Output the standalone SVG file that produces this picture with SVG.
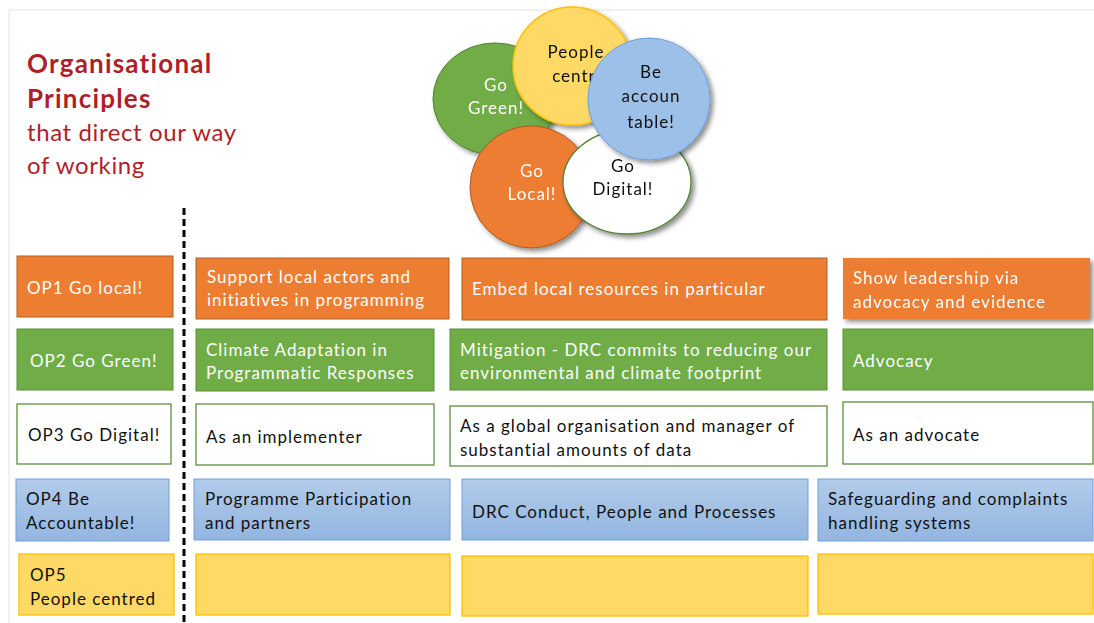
<svg xmlns="http://www.w3.org/2000/svg" width="1094" height="623" viewBox="0 0 1094 623">
<defs>
<filter id="sh" x="-20%" y="-20%" width="150%" height="150%">
<feGaussianBlur in="SourceAlpha" stdDeviation="2.5"/>
<feOffset dx="3" dy="3" result="b"/>
<feComponentTransfer><feFuncA type="linear" slope="0.45"/></feComponentTransfer>
<feMerge><feMergeNode/><feMergeNode in="SourceGraphic"/></feMerge>
</filter>
<linearGradient id="blue" x1="0" y1="0" x2="0" y2="1">
<stop offset="0" stop-color="#B3CCEA"/>
<stop offset="1" stop-color="#92B5E0"/>
</linearGradient>
</defs>
<style>
text{font-family:Lato,"Open Sans","Liberation Sans",sans-serif;font-size:17px;letter-spacing:1px}
.w{fill:#ffffff}
.k{fill:#111111}
.or{fill:#ED7D31;stroke:#B25E22;stroke-width:1}
.gr{fill:#70AD47;stroke:#5B8F38;stroke-width:1}
.wh{fill:#ffffff;stroke:#5E8E3C;stroke-width:1.3}
.bl{fill:url(#blue);stroke:#6FA0DC;stroke-width:1}
.ye{fill:#FFD966;stroke:#FFC000;stroke-width:1.3}
.ttl{fill:#B01F28}
.c{text-anchor:middle}
</style>
<rect x="0" y="0" width="1094" height="623" fill="#ffffff"/>
<path d="M9 623 V10 H1094" fill="none" stroke="#EDEDED" stroke-width="1.5"/>

<g id="title">
<text class="ttl" x="27" y="73" style="font-size:26px;font-weight:bold;letter-spacing:1.2px">Organisational</text>
<text class="ttl" x="27" y="108" style="font-size:26px;font-weight:bold;letter-spacing:1.2px">Principles</text>
<text class="ttl" x="27" y="141" style="font-size:24px;letter-spacing:0.6px">that direct our way</text>
<text class="ttl" x="27" y="174" style="font-size:24px;letter-spacing:0.6px">of working</text>
</g>

<g id="connectors">
<line x1="184" y1="208" x2="184" y2="623" stroke="#000" stroke-width="3" stroke-dasharray="7,4"/>
</g>

<g id="circle-green" filter="url(#sh)">
<ellipse cx="495" cy="99" rx="62" ry="56" fill="#70AD47" stroke="#507E32" stroke-width="1"/>
<text class="w c" x="496" y="91">Go</text>
<text class="w c" x="496" y="114">Green!</text>
</g>
<g id="circle-people" filter="url(#sh)">
<circle cx="572" cy="66" r="59" fill="#FFD966" stroke="#FFC000" stroke-width="1.5"/>
<text class="k c" x="576" y="58">People</text>
<text class="k c" x="584" y="82">centred</text>
</g>
<g id="circle-local" filter="url(#sh)">
<circle cx="531" cy="187" r="61" fill="#ED7D31" stroke="#AE5A21" stroke-width="1"/>
<text class="w c" x="532" y="177">Go</text>
<text class="w c" x="532" y="200">Local!</text>
</g>
<g id="circle-digital" filter="url(#sh)">
<ellipse cx="627" cy="182" rx="64" ry="52" fill="#ffffff" stroke="#548235" stroke-width="1.3"/>
<text class="k c" x="623" y="172">Go</text>
<text class="k c" x="623" y="195">Digital!</text>
</g>
<g id="circle-accountable" filter="url(#sh)">
<circle cx="649" cy="99" r="61" fill="#9DC0E8" stroke="#6D9EDB" stroke-width="1"/>
<text class="k c" x="651" y="78">Be</text>
<text class="k c" x="651" y="102">accoun</text>
<text class="k c" x="651" y="128">table!</text>
</g>

<g id="op1">
<rect class="or" x="17" y="256" width="156" height="61"/>
<text class="w" x="27" y="294">OP1 Go local!</text>
</g>
<g id="op1-a">
<rect class="or" x="196" y="258" width="253" height="61"/>
<text class="w" x="207" y="283">Support local actors and</text>
<text class="w" x="207" y="306">initiatives in programming</text>
</g>
<g id="op1-b">
<rect class="or" x="462" y="258" width="365" height="62"/>
<text class="w" x="472" y="295">Embed local resources in particular</text>
</g>
<g id="op1-c" filter="url(#sh)">
<rect x="843" y="258" width="247" height="61" fill="#ED7D31"/>
<text class="w" x="853" y="284">Show leadership via</text>
<text class="w" x="853" y="308">advocacy and evidence</text>
</g>

<g id="op2">
<rect class="gr" x="17" y="329" width="156" height="61"/>
<text class="w" x="30" y="367">OP2 Go Green!</text>
</g>
<g id="op2-a">
<rect class="gr" x="196" y="329" width="238" height="62"/>
<text class="w" x="206" y="356">Climate Adaptation in</text>
<text class="w" x="206" y="379">Programmatic Responses</text>
</g>
<g id="op2-b">
<rect class="gr" x="450" y="329" width="377" height="61"/>
<text class="w" x="460" y="356">Mitigation - DRC commits to reducing our</text>
<text class="w" x="460" y="379">environmental and climate footprint</text>
</g>
<g id="op2-c">
<rect class="gr" x="843" y="329" width="250" height="61"/>
<text class="w" x="853" y="367">Advocacy</text>
</g>

<g id="op3">
<rect class="wh" x="17" y="404" width="154" height="60"/>
<text class="k" x="28" y="441">OP3 Go Digital!</text>
</g>
<g id="op3-a">
<rect class="wh" x="196" y="404" width="238" height="61"/>
<text class="k" x="206" y="443">As an implementer</text>
</g>
<g id="op3-b">
<rect class="wh" x="450" y="406" width="377" height="60"/>
<text class="k" x="460" y="432">As a global organisation and manager of</text>
<text class="k" x="460" y="456">substantial amounts of data</text>
</g>
<g id="op3-c">
<rect class="wh" x="843" y="402" width="250" height="62"/>
<text class="k" x="853" y="441">As an advocate</text>
</g>

<g id="op4">
<rect class="bl" x="16" y="479" width="153" height="62"/>
<text class="k" x="26" y="505">OP4 Be</text>
<text class="k" x="26" y="529">Accountable!</text>
</g>
<g id="op4-a">
<rect class="bl" x="194" y="479" width="256" height="61"/>
<text class="k" x="205" y="505">Programme Participation</text>
<text class="k" x="205" y="529">and partners</text>
</g>
<g id="op4-b">
<rect class="bl" x="462" y="479" width="346" height="61"/>
<text class="k" x="472" y="518">DRC Conduct, People and Processes</text>
</g>
<g id="op4-c">
<rect class="bl" x="818" y="479" width="275" height="62"/>
<text class="k" x="828" y="505">Safeguarding and complaints</text>
<text class="k" x="828" y="529">handling systems</text>
</g>

<g id="op5">
<rect class="ye" x="19" y="554" width="155" height="61"/>
<text class="k" x="30" y="581">OP5</text>
<text class="k" x="30" y="605">People centred</text>
</g>
<g id="op5-a">
<rect class="ye" x="196" y="554" width="254" height="61"/>
</g>
<g id="op5-b">
<rect class="ye" x="462" y="556" width="346" height="60"/>
</g>
<g id="op5-c">
<rect class="ye" x="818" y="554" width="275" height="60"/>
</g>
</svg>
